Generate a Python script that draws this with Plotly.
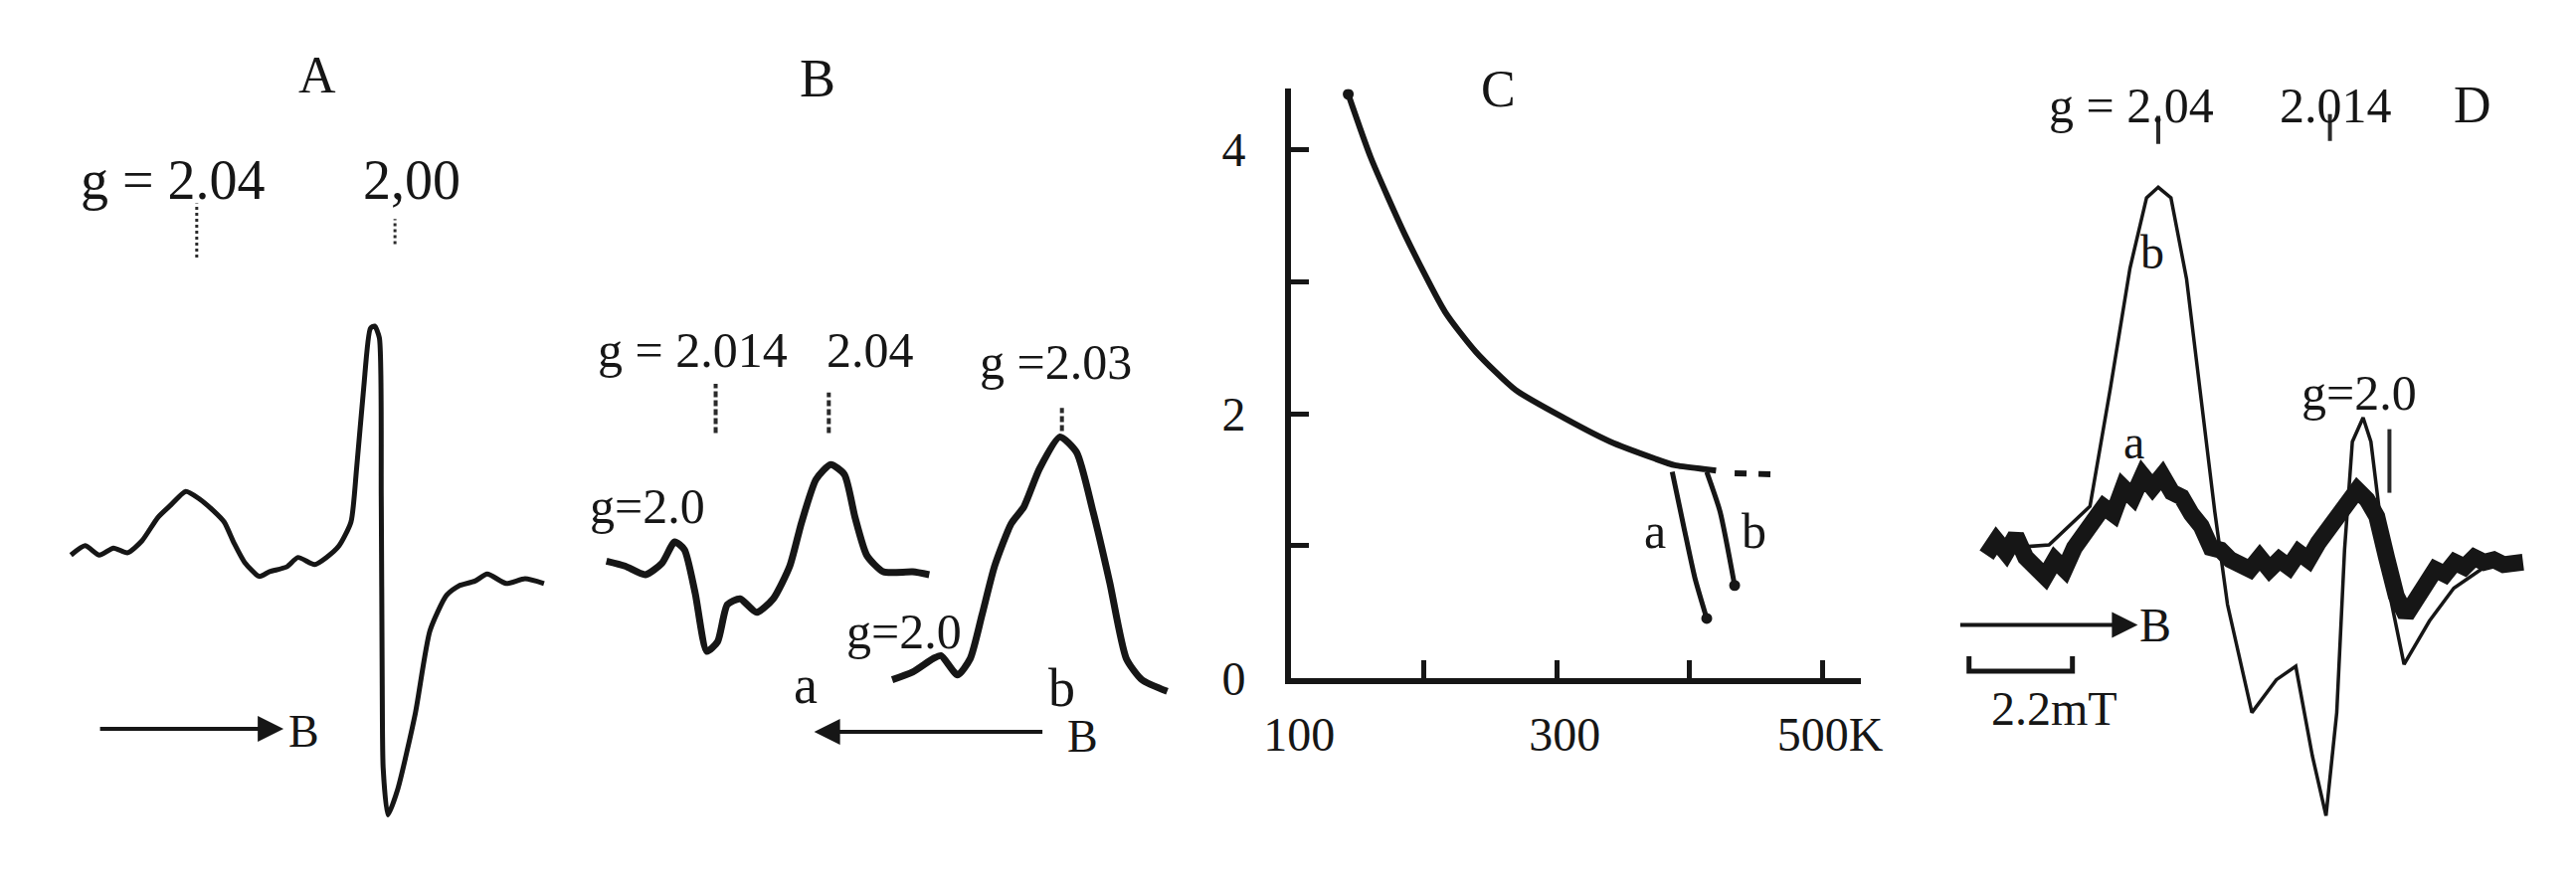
import plotly.graph_objects as go

W, H = 2590, 882
FONT = "Liberation Serif"
INK = "#161616"

# ---------------- Panel A : EPR spectrum (field units, signal units) ----------------
A_field = [0, 3, 6, 9, 12, 15, 18.4, 21, 24.3, 27, 30, 32.4, 34.5, 36.7, 39.8, 42, 45.6, 48,
           51.5, 54, 56.7, 59.2, 60.4, 61.9, 63.3, 64.2, 65.2, 65.6, 65.8, 66.0, 67.0, 69.1,
           72.8, 75.9, 79.4, 82, 85.4, 88, 92.0, 96, 100]
A_signal = [3, 7, 3, 6, 4, 9, 19, 24, 30, 27, 22, 17, 8, 0, -6, -4, -2, 2, -1, 2, 7, 17, 40,
            74, 99, 100, 95, 28, -50, -87, -107, -96, -64, -29, -14, -10, -8, -5, -9, -7, -9]
A_gmark_field = [26.6, 68.5]
A_gmark_top = [152.0, 145.3]
A_gmark_bot = [129.0, 134.7]

# ---------------- Panel B : spectra a and b ----------------
Ba_field = [0, 3.8, 8, 11.4, 14, 16, 18.2, 20.6, 22.8, 24.8, 27.4, 30.8, 34.2, 37.6, 40, 43,
            46, 48.8, 51, 53.4, 56.8, 62.8, 66.2]
Ba_signal = [4.4, 2.4, -1.2, 3.6, 12.4, 9.2, -8.8, -33, -29, -13.6, -11.2, -16.8, -11.2, 2.4,
             20.4, 38.4, 44.5, 40.4, 22.4, 6.8, 0, 0, -1.2]
Bb_field = [58.6, 62.8, 67, 68.6, 72, 74.6, 77, 79.6, 83, 85.6, 88.8, 93, 96.4, 99.8, 103.2,
            106.6, 109.8, 115]
Bb_signal = [-44.8, -41.6, -36, -34.8, -42.8, -36, -18, 2.4, 20, 27, 42.8, 56, 49.6, 24.8,
             -4.4, -36, -44.8, -49.6]
B_gmark_field = [22.4, 45.6, 93.4]
B_gmark_top = [78.0, 74.4, 68.0]
B_gmark_bot = [57.6, 57.6, 58.4]

# ---------------- Panel C : intensity vs temperature ----------------
C_T = [143, 160, 186, 216, 239, 269, 307, 340, 374, 389, 412, 420]
C_I = [4.42, 3.94, 3.35, 2.77, 2.47, 2.18, 1.96, 1.79, 1.66, 1.61, 1.58, 1.57]
C_ext_T = [434, 466]
C_ext_I = [1.55, 1.54]
Ca_T = [387, 396, 404, 413]
Ca_I = [1.56, 1.13, 0.76, 0.45]
Cb_T = [413, 423, 434]
Cb_I = [1.56, 1.26, 0.70]
C_xticks = [100, 200, 300, 400, 500]
C_xlabels = ["100", "", "300", "", "500K"]
C_yticks = [0, 1, 2, 3, 4]
C_ylabels = ["0", "", "2", "", "4"]

# ---------------- Panel D : spectra a (noisy) and b ----------------
Da_field = [0, 2, 4, 6, 8, 10, 12, 14, 16, 18, 20, 22, 24, 26, 28, 30, 32, 34, 36, 38, 40, 42,
            44, 46, 48, 50, 52, 54, 56, 58, 60, 62, 64, 66, 68, 70, 72, 74, 76, 78, 80, 82, 84,
            86, 88, 90, 92, 94, 96, 98, 100, 102, 104, 106, 108, 110]
Da_signal = [3, 9, 4, 11, 2, -2, -6, 1, -3, 6, 12, 18, 23, 20, 31, 27, 36, 31, 36, 29, 27, 20,
             15, 6, 5, 1, -1, -3, 2, -3, 1, -2, 4, 1, 8, 13, 20, 24, 30, 26, 19, 2, -14, -22,
             -16, -10, -3, -5, 0, -2, 2, 0, 1, -1, 0, 0]
Db_field = [0, 12.8, 21.2, 25.4, 29.4, 32.8, 35.2, 37.8, 41, 44.4, 46.8, 49.4, 54.4, 59.4,
            63.4, 66.8, 69.6, 71.8, 73.4, 75, 77.2, 78.8, 80.2, 82.6, 85.6, 90.8, 95.8, 102.4,
            109.8]
Db_signal = [5.2, 7.2, 23.2, 72.4, 122, 151.2, 155.6, 151.2, 117.6, 61.2, 20.8, -17.6, -62.4,
             -48.8, -43.2, -80.4, -105.2, -62.4, 5.2, 50, 60, 50, 27.6, -12.8, -42.4, -24.4,
             -10.8, -1.6, -0.4]
D_gmark_field = [35.2, 70.4, 82.6]
D_gmark_top = [185.2, 186.0, 55.2]
D_gmark_bot = [173.6, 174.8, 28.8]
D_scalebar_field = [-3.6, -3.6, -3.6, 17.6, 17.6, 17.6]
D_scalebar_signal = [-39.0, -45.2, -45.2, -45.2, -45.2, -39.0]


# ---------------- helpers for placing panels ----------------
def xdom(p0, p1):
    return [p0 / W, p1 / W]


def ydom(top, bot):
    return [1 - bot / H, 1 - top / H]


def px(x, y):
    return x / W, 1 - y / H


def lin_axes(p0, p1, ox, sx, oy, sy):
    xr = [(p0 - ox) / sx, (p1 - ox) / sx]
    yr = [(oy - H) / sy, oy / sy]
    return xr, yr


fig = go.Figure()


def line(x, y, xa, ya, width, dash=None, color=INK, shape="spline"):
    ln = dict(color=color, width=width, dash=dash, shape=shape)
    if shape == "spline":
        ln["smoothing"] = 0.6
    fig.add_trace(go.Scatter(x=x, y=y, xaxis=xa, yaxis=ya, mode="lines", line=ln,
                             hoverinfo="skip", showlegend=False))


def gmarks(xs, tops, bots, xa, ya, dash, width):
    for gx, t, b in zip(xs, tops, bots):
        fig.add_trace(go.Scatter(x=[gx, gx], y=[b, t], xaxis=xa, yaxis=ya, mode="lines",
                                 line=dict(color="#2a2a2a", width=width, dash=dash),
                                 hoverinfo="skip", showlegend=False))


# Panel A
line(A_field, A_signal, "x", "y", 5)
gmarks(A_gmark_field, A_gmark_top, A_gmark_bot, "x", "y", "3px,3px", 3)
# Panel B
line(Ba_field, Ba_signal, "x2", "y2", 7)
line(Bb_field, Bb_signal, "x2", "y2", 7)
gmarks(B_gmark_field, B_gmark_top, B_gmark_bot, "x2", "y2", "6px,3px", 4)
# Panel C
line(C_T, C_I, "x3", "y3", 6)
fig.add_trace(go.Scatter(x=C_ext_T, y=C_ext_I, xaxis="x3", yaxis="y3", mode="lines",
                         line=dict(color=INK, width=6, dash="12px,12px"),
                         hoverinfo="skip", showlegend=False))
line(Ca_T, Ca_I, "x3", "y3", 5)
line(Cb_T, Cb_I, "x3", "y3", 5)
fig.add_trace(go.Scatter(x=[C_T[0], Ca_T[-1], Cb_T[-1]], y=[C_I[0], Ca_I[-1], Cb_I[-1]],
                         xaxis="x3", yaxis="y3", mode="markers",
                         marker=dict(color=INK, size=11), hoverinfo="skip", showlegend=False))
# Panel D
line(Db_field, Db_signal, "x4", "y4", 3.5, shape="linear")
fig.add_trace(go.Scatter(x=Da_field, y=Da_signal, xaxis="x4", yaxis="y4", mode="lines",
                         line=dict(color=INK, width=17), hoverinfo="skip", showlegend=False))
gmarks(D_gmark_field, D_gmark_top, D_gmark_bot, "x4", "y4", None, 4)
fig.add_trace(go.Scatter(x=D_scalebar_field, y=D_scalebar_signal, xaxis="x4", yaxis="y4",
                         mode="lines", line=dict(color=INK, width=5),
                         hoverinfo="skip", showlegend=False))

xrA, yrA = lin_axes(0, 560, 36, 4.85, 575, 2.45)
xrB, yrB = lin_axes(540, 1200, 585, 5, 585, 2.5)
xrD, yrD = lin_axes(1940, 2590, 2000, 5, 575, 2.5)
hid = dict(visible=False, showgrid=False, zeroline=False)

fig.update_layout(
    width=W, height=H, margin=dict(l=0, r=0, t=0, b=0),
    paper_bgcolor="white", plot_bgcolor="rgba(0,0,0,0)", showlegend=False,
    font=dict(family=FONT, color=INK),
    xaxis=dict(domain=xdom(0, 560), range=xrA, anchor="y", **hid),
    yaxis=dict(domain=[0, 1], range=yrA, anchor="x", **hid),
    xaxis2=dict(domain=xdom(540, 1200), range=xrB, anchor="y2", **hid),
    yaxis2=dict(domain=[0, 1], range=yrB, anchor="x2", **hid),
    xaxis4=dict(domain=xdom(1940, 2590), range=xrD, anchor="y4", **hid),
    yaxis4=dict(domain=[0, 1], range=yrD, anchor="x4", **hid),
    xaxis3=dict(domain=xdom(1287, 1871), range=[100, 529], anchor="y3",
                showline=True, linewidth=6, linecolor=INK, showgrid=False, zeroline=False,
                ticks="inside", ticklen=18, tickwidth=5, tickcolor=INK,
                tickvals=C_xticks, ticktext=C_xlabels, ticklabelshift=8,
                ticklabelstandoff=10,
                tickfont=dict(family=FONT, size=48, color=INK)),
    yaxis3=dict(domain=ydom(84, 695), range=[0, 4.46], anchor="x3",
                showline=True, linewidth=6, linecolor=INK, showgrid=False, zeroline=False,
                ticks="inside", ticklen=18, tickwidth=5, tickcolor=INK,
                tickvals=C_yticks, ticktext=C_ylabels, ticklabelstandoff=30,
                tickfont=dict(family=FONT, size=48, color=INK)),
)

texts = [
    # (text, x, y, size)
    ("A", 289, 70, 52),
    ("g = 2.04", 141, 178, 56),
    ("2,00", 385, 178, 56),
    ("B", 275, 750, 46),
    ("B", 801, 73, 54),
    ("g = 2.014", 673, 355, 50),
    ("2.04", 856, 355, 50),
    ("g =2.03", 1046, 367, 50),
    ("g=2.0", 627, 517, 50),
    ("g=2.0", 890, 647, 50),
    ("a", 789, 703, 54),
    ("b", 1052, 706, 54),
    ("B", 1073, 756, 46),
    ("C", 1499, 84, 52),
    ("a", 1660, 543, 50),
    ("b", 1762, 543, 50),
    ("g = 2.04", 2148, 101, 50),
    ("2.014", 2358, 101, 50),
    ("D", 2498, 101, 52),
    ("b", 2170, 253, 48),
    ("a", 2151, 450, 48),
    ("g=2.0", 2382, 399, 50),
    ("B", 2173, 640, 48),
    ("2.2mT", 2069, 727, 48),
]
for t, x, y, s in texts:
    ax_, ay_ = px(x, y)
    fig.add_annotation(text=t, x=ax_, y=ay_, xref="paper", yref="paper", showarrow=False,
                       xanchor="center", yanchor="middle",
                       font=dict(family=FONT, size=s, color=INK))

# field-direction arrows
arrows = [
    # head x, head y, tail offset (px)
    (254, 748, -186),
    (798, 751, 231),
    (2155, 640, -180),
]
for hx, hy, off in arrows:
    ax_, ay_ = px(hx, hy)
    fig.add_annotation(text="", x=ax_, y=ay_, xref="paper", yref="paper", showarrow=True,
                       ax=off, ay=0, axref="pixel", ayref="pixel", arrowhead=2,
                       arrowsize=1.3, arrowwidth=4, arrowcolor=INK)

fig.write_html("out.html")
